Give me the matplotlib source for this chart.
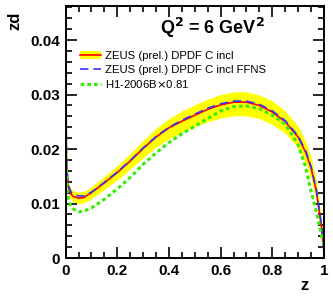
import matplotlib

matplotlib.use("Agg")
import matplotlib.pyplot as plt
from matplotlib.patches import Patch
from matplotlib.ticker import MultipleLocator

plt.rcParams["font.family"] = ["Liberation Sans", "DejaVu Sans"]

z = [0.0005, 0.003, 0.006, 0.01, 0.02, 0.03, 0.05, 0.07, 0.1, 0.15, 0.2, 0.25,
     0.3, 0.35, 0.4, 0.45, 0.5, 0.55, 0.6, 0.65, 0.7, 0.75, 0.8, 0.85, 0.9,
     0.93, 0.95, 0.97, 0.99, 1.0]
zeus = [0.05, 0.018, 0.0155, 0.013, 0.0118, 0.0113, 0.011, 0.0111, 0.012, 0.0138,
        0.0157, 0.0178, 0.0201, 0.0222, 0.0239, 0.0251, 0.0262, 0.0273, 0.0281,
        0.0286, 0.0286, 0.0280, 0.0268, 0.0250, 0.0222, 0.0193, 0.0165, 0.0124,
        0.0058, 0.0010]
zeus_lo = [0.05, 0.017, 0.0145, 0.012, 0.0108, 0.0103, 0.0100, 0.0101, 0.0109,
           0.0126, 0.0143, 0.0163, 0.0184, 0.0203, 0.0219, 0.0231, 0.0241, 0.0250,
           0.0257, 0.0261, 0.0261, 0.0256, 0.0245, 0.0229, 0.0202, 0.0173, 0.0145,
           0.0104, 0.0042, 0.0005]
zeus_hi = [0.05, 0.019, 0.0165, 0.014, 0.0128, 0.0123, 0.0121, 0.0122, 0.0131,
           0.0150, 0.0170, 0.0192, 0.0216, 0.0238, 0.0256, 0.0270, 0.0281, 0.0292,
           0.0300, 0.0305, 0.0305, 0.0299, 0.0288, 0.0270, 0.0242, 0.0213, 0.0185,
           0.0144, 0.0074, 0.0015]
ffns = [0.05, 0.0185, 0.016, 0.0135, 0.0122, 0.0117, 0.0114, 0.0114, 0.0121, 0.0139,
        0.0158, 0.0179, 0.0202, 0.0223, 0.0240, 0.0253, 0.0264, 0.0275, 0.0283,
        0.0288, 0.0288, 0.0282, 0.0270, 0.0252, 0.0224, 0.0196, 0.0168, 0.0127,
        0.0062, 0.0015]
h1 = [0.02, 0.016, 0.013, 0.011, 0.0095, 0.0090, 0.0085, 0.0086, 0.0092, 0.0108,
      0.0127, 0.0148, 0.0172, 0.0193, 0.0212, 0.0228, 0.0242, 0.0256, 0.0270,
      0.0278, 0.0279, 0.0274, 0.0262, 0.0246, 0.0208, 0.0165, 0.0122, 0.0085,
      0.0042, 0.0025]

labels = ["ZEUS (prel.) DPDF C incl", "ZEUS (prel.) DPDF C incl FFNS",
          "H1-2006B$\\times$0.81"]
xticks = [0, 0.2, 0.4, 0.6, 0.8, 1.0]
xticklabels = ["0", "0.2", "0.4", "0.6", "0.8", "1"]
yticks = [0, 0.01, 0.02, 0.03, 0.04]
yticklabels = ["0", "0.01", "0.02", "0.03", "0.04"]


def main():
    fig = plt.figure(figsize=(3.33, 2.97), dpi=100)
    ax = fig.add_axes([0.197, 0.131, 0.776, 0.848])

    ax.fill_between(z, zeus_lo, zeus_hi, color="#ffff00", lw=0)
    l1, = ax.plot(z, zeus, color="red", lw=1.2)
    l2, = ax.plot(z, ffns, color="#3333ff", lw=1.2, ls=(0, (5, 3)))
    l3, = ax.plot(z, h1, color="#33ee00", lw=2.2, ls=(0, (1.2, 1.0)))

    band = Patch(facecolor="#ffff00", edgecolor="none")
    ax.legend([(band, l1), l2, l3], labels, loc="upper left",
              bbox_to_anchor=(0.04, 0.84), frameon=False, fontsize=8.2,
              handlelength=1.8, handletextpad=0.35, labelspacing=0.3,
              borderaxespad=0)

    ax.text(0.567, 0.913, "Q$^{\\mathbf{2}}$ = 6 GeV$^{\\mathbf{2}}$", transform=ax.transAxes,
            ha="center", va="center", fontsize=13, fontweight="bold")

    ax.set_xlim(0, 1)
    ax.set_ylim(0, 0.0462)
    ax.xaxis.set_minor_locator(MultipleLocator(0.05))
    ax.yaxis.set_minor_locator(MultipleLocator(0.002))
    ax.set_xticks(xticks)
    ax.set_xticklabels(xticklabels)
    ax.set_yticks(yticks)
    ax.set_yticklabels(yticklabels)
    ax.tick_params(which="both", direction="in", top=True, right=True, width=1.2,
                   labelsize=11, pad=4)
    ax.tick_params(which="major", length=8)
    ax.tick_params(which="minor", length=4)
    for lab in ax.get_xticklabels() + ax.get_yticklabels():
        lab.set_fontweight("bold")
    for sp in ax.spines.values():
        sp.set_linewidth(1.4)

    fig.text(0.045, 0.93, "zd", rotation=90, ha="center", va="center",
             fontsize=12, fontweight="bold")
    fig.text(0.915, 0.04, "z", ha="center", va="center", fontsize=12,
             fontweight="bold")

    fig.savefig("out.png", dpi=100)
    plt.close(fig)


if __name__ == "__main__":
    main()
